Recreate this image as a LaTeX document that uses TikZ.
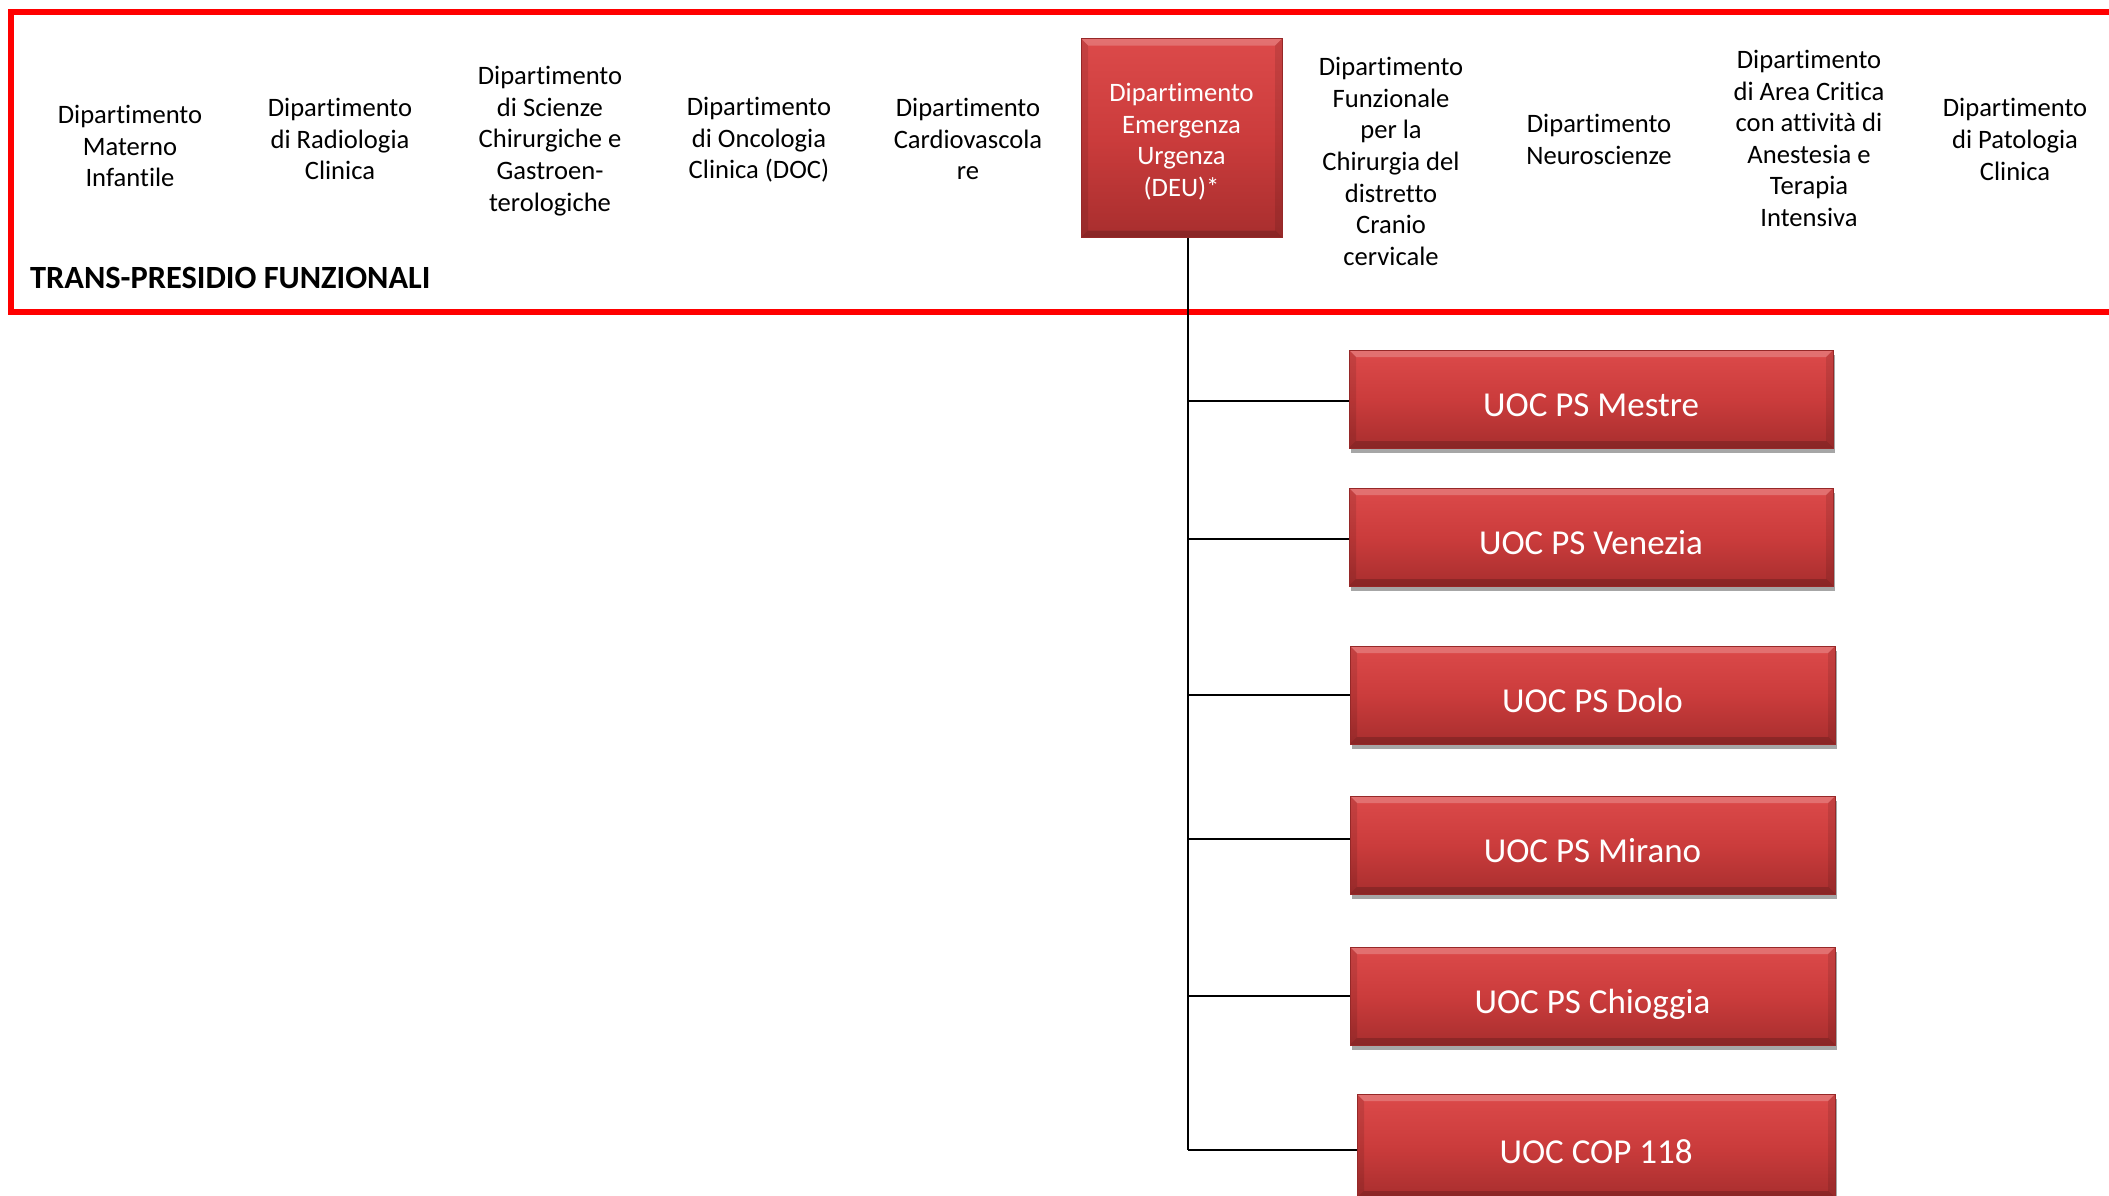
\documentclass[tikz,border=0pt]{standalone}
\usepackage{fontspec}
\setmainfont{Carlito}[Ligatures=NoCommon]
\usetikzlibrary{shadows}
\definecolor{frame}{RGB}{255,0,0}
\definecolor{boxtop}{RGB}{220,74,74}
\definecolor{boxmid}{RGB}{203,60,60}
\definecolor{boxbot}{RGB}{168,46,46}
\definecolor{boxedge}{RGB}{150,40,40}
\newcommand{\bevelw}{7pt}
\tikzset{
  dept/.style={align=center, inner sep=0pt, font=\fontsize{26.6}{31.6}\selectfont},
  bevel/.style={path picture={
    \fill[white,opacity=0.22] (path picture bounding box.north west) -- (path picture bounding box.north east)
      -- ([shift={(-\bevelw,-\bevelw)}]path picture bounding box.north east) -- ([shift={(\bevelw,-\bevelw)}]path picture bounding box.north west) -- cycle;
    \fill[black,opacity=0.18] (path picture bounding box.south west) -- (path picture bounding box.south east)
      -- ([shift={(-\bevelw,\bevelw)}]path picture bounding box.south east) -- ([shift={(\bevelw,\bevelw)}]path picture bounding box.south west) -- cycle;
    \fill[black,opacity=0.10] (path picture bounding box.south west) -- (path picture bounding box.north west)
      -- ([shift={(\bevelw,-\bevelw)}]path picture bounding box.north west) -- ([shift={(\bevelw,\bevelw)}]path picture bounding box.south west) -- cycle;
    \fill[black,opacity=0.10] (path picture bounding box.south east) -- (path picture bounding box.north east)
      -- ([shift={(-\bevelw,-\bevelw)}]path picture bounding box.north east) -- ([shift={(-\bevelw,\bevelw)}]path picture bounding box.south east) -- cycle;
  }},
  redbox/.style={draw=boxedge, line width=0.8pt, top color=boxtop, bottom color=boxbot, middle color=boxmid,
    text=white, inner sep=0pt, bevel},
  uoc/.style={redbox, minimum height=98pt, font=\fontsize{35}{40}\selectfont, text height=40pt, text depth=5pt,
    drop shadow={shadow xshift=2pt, shadow yshift=-5pt, opacity=0.35, fill=black}},
  conn/.style={draw=black, line width=1.8pt},
}
\begin{document}
\begin{tikzpicture}[x=1pt,y=-1pt]
\useasboundingbox (0,0) rectangle (2109,1195);
\fill[white] (0,0) rectangle (2109,1195);
% frame
\draw[frame, line width=6pt] (2109,12) -- (11,12) -- (11,312) -- (2109,312);
\node[anchor=base west, inner sep=0pt, font=\fontsize{32.4}{38}\selectfont\bfseries] (title) at (30,288) {TRANS-PRESIDIO FUNZIONALI};
% departments
\node[dept] (d1) at (130,146) {Dipartimento\\Materno\\Infantile};
\node[dept] (d2) at (340,139) {Dipartimento\\di Radiologia\\Clinica};
\node[dept] (d3) at (550,141) {Dipartimento\\di Scienze\\Chirurgiche e\\Gastroen-\\terologiche};
\node[dept] (d4) at (759,140) {Dipartimento\\di Oncologia\\Clinica (DOC)};
\node[dept] (d5) at (968,139) {Dipartimento\\Cardiovascola\\re};
\node[redbox, minimum width=201pt, minimum height=199pt] (deu) at (1181.5,138) {};
\node[dept, text=white] (deut) at (1181.5,141.5) {Dipartimento\\Emergenza\\Urgenza\\(DEU)*};
\node[dept] (d7) at (1391,161.5) {Dipartimento\\Funzionale\\per la\\Chirurgia del\\distretto\\Cranio\\cervicale};
\node[dept] (d8) at (1599,139.5) {Dipartimento\\Neuroscienze};
\node[dept] (d9) at (1809,138.5) {Dipartimento\\di Area Critica\\con attività di\\Anestesia e\\Terapia\\Intensiva};
\node[dept] (d10) at (2015,139.5) {Dipartimento\\di Patologia\\Clinica};
% units
\node[uoc, minimum width=484pt] (u1) at (1591,399) {UOC PS Mestre};
\node[uoc, minimum width=484pt] (u2) at (1591,537) {UOC PS Venezia};
\node[uoc, minimum width=485pt] (u3) at (1592.5,695) {UOC PS Dolo};
\node[uoc, minimum width=485pt] (u4) at (1592.5,845) {UOC PS Mirano};
\node[uoc, minimum width=485pt] (u5) at (1592.5,996) {UOC PS Chioggia};
\node[uoc, minimum width=478pt, minimum height=104pt] (u6) at (1596,1146) {UOC COP 118};
% connectors
\coordinate (spine) at (1188,0);
\draw[conn] (deu.south -| spine) -- ([yshift=-4pt]u6.west -| spine);
\draw[conn] ([yshift=-2pt]u1.west -| spine) -- ([yshift=-2pt]u1.west);
\draw[conn] ([yshift=-2pt]u2.west -| spine) -- ([yshift=-2pt]u2.west);
\draw[conn] (u3.west -| spine) -- (u3.west);
\draw[conn] ([yshift=6pt]u4.west -| spine) -- ([yshift=6pt]u4.west);
\draw[conn] (u5.west -| spine) -- (u5.west);
\draw[conn] ([yshift=-4pt]u6.west -| spine) -- ([yshift=-4pt]u6.west);
\end{tikzpicture}
\end{document}
